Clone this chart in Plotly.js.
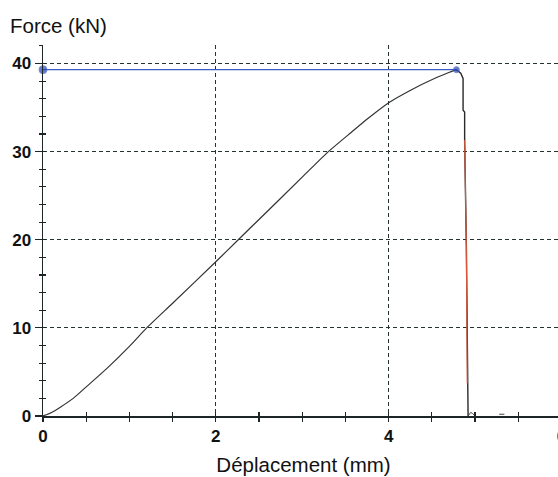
<!DOCTYPE html>
<html>
<head>
<meta charset="utf-8">
<script src="https://cdn.plot.ly/plotly-3.0.1.min.js"></script>
<style>
html,body{margin:0;padding:0;overflow:hidden;background:#fff;width:558px;height:477px;}
#chart{width:570px;height:477px;}
</style>
</head>
<body>
<div id="chart"></div>
<script>
// Load curve (Force vs displacement)
const curveX = [0, 0.1, 0.2, 0.35, 0.5, 0.74, 1.0, 1.2, 1.5, 2.0, 2.26, 2.5, 3.0, 3.3, 3.57, 3.76, 4.01, 4.26, 4.53, 4.69, 4.785];
const curveY = [0, 0.4, 1.0, 2.0, 3.3, 5.4, 7.9, 10.0, 12.8, 17.5, 20.0, 22.3, 27.1, 29.97, 32.2, 33.75, 35.6, 37.0, 38.3, 38.95, 39.3];
// Failure drop
const dropX = [4.785, 4.835, 4.862, 4.862, 4.88, 4.88, 4.90, 4.91, 4.92, 4.92];
const dropY = [39.3, 38.9, 38.3, 34.7, 34.5, 31.3, 19.2, 3.7, 1.0, 0];
// Red-highlighted part of the drop
const redX = [4.88, 4.90, 4.91];
const redY = [31.3, 19.2, 3.7];
// Residual trace after failure
const tailX = [4.92, 4.95, 4.97, 4.99, null, 5.28, 5.34];
const tailY = [0, 0.4, 0.3, 0.1, null, 0.2, 0.2];
// Maximum force reference
const maxX = [0, 4.785];
const maxY = [39.3, 39.3];
const markerSizes = [8, 6];

const xTickVals = [0, 2, 4, 6];
const xTickText = ['0', '2', '4', '6'];
const yTickVals = [0, 10, 20, 30, 40];
const yTickText = ['0', '10', '20', '30', '40'];

const xRange = [0, 6.03];
const yRange = [0, 42.1];
const axisColor = '#1c2626';
const gridColor = '#243232';
const tickFont = {family: 'Liberation Sans, Arial, sans-serif', size: 17, color: '#111', weight: 'bold'};
const titleFont = {family: 'Liberation Sans, Arial, sans-serif', size: 20.5, color: '#111'};

const traces = [
  {x: curveX, y: curveY, type: 'scatter', mode: 'lines', line: {color: '#333', width: 1.2, shape: 'spline', smoothing: 0.6}, hoverinfo: 'skip', showlegend: false},
  {x: dropX, y: dropY, type: 'scatter', mode: 'lines', line: {color: '#2a2a2a', width: 1.4}, hoverinfo: 'skip', showlegend: false},
  {x: redX, y: redY, type: 'scatter', mode: 'lines', line: {color: '#d9583a', width: 1.1}, hoverinfo: 'skip', showlegend: false},
  {x: tailX, y: tailY, type: 'scatter', mode: 'lines', line: {color: '#444', width: 1}, connectgaps: false, hoverinfo: 'skip', showlegend: false},
  {x: maxX, y: maxY, type: 'scatter', mode: 'lines+markers', xaxis: 'x2', yaxis: 'y2',
   line: {color: '#3a5cc8', width: 1.3}, marker: {color: '#2444b4', size: markerSizes}, cliponaxis: false, hoverinfo: 'skip', showlegend: false}
];

const layout = {
  width: 570, height: 477,
  margin: {l: 43, r: 6, t: 45, b: 61},
  paper_bgcolor: '#fff', plot_bgcolor: '#fff',
  showlegend: false,
  title: {text: 'Force (kN)', font: titleFont, x: 10/570, xanchor: 'left', y: 1 - 26/477, yanchor: 'middle', xref: 'container', yref: 'container'},
  xaxis: {
    range: xRange, tickmode: 'array', tickvals: xTickVals, ticktext: xTickText,
    showgrid: true, gridcolor: gridColor, griddash: '4px,3px', gridwidth: 1,
    zeroline: false, showline: true, linecolor: axisColor, linewidth: 1.5,
    ticks: 'outside', ticklen: 4, tickwidth: 1.2, tickcolor: axisColor,
    minor: {dtick: 0.5, tick0: 0, ticks: 'outside', ticklen: 4, tickwidth: 1.2, tickcolor: axisColor, showgrid: false},
    tickfont: tickFont,
    title: {text: 'Déplacement (mm)', font: titleFont, standoff: 12},
    fixedrange: true
  },
  xaxis2: {
    overlaying: 'x', anchor: 'y', side: 'bottom', range: xRange,
    tickmode: 'array', tickvals: xTickVals, showticklabels: false,
    showgrid: false, zeroline: false, showline: false,
    ticks: 'inside', ticklen: 4, tickwidth: 1.2, tickcolor: axisColor,
    minor: {dtick: 0.5, tick0: 0, ticks: 'inside', ticklen: 4, tickwidth: 1.2, tickcolor: axisColor, showgrid: false},
    fixedrange: true
  },
  yaxis: {
    range: yRange, tickmode: 'array', tickvals: yTickVals, ticktext: yTickText,
    showgrid: true, gridcolor: gridColor, griddash: '4px,3px', gridwidth: 1,
    zeroline: false, showline: true, linecolor: axisColor, linewidth: 1.5,
    ticks: 'outside', ticklen: 7, tickwidth: 1.2, tickcolor: axisColor,
    minor: {dtick: 2, tick0: 0, ticks: 'outside', ticklen: 3, tickwidth: 1.2, tickcolor: axisColor, showgrid: false},
    tickfont: tickFont,
    fixedrange: true
  },
  yaxis2: {
    overlaying: 'y', anchor: 'x', side: 'left', range: yRange,
    tickmode: 'array', tickvals: yTickVals, showticklabels: false,
    showgrid: false, zeroline: false, showline: false,
    ticks: 'inside', ticklen: 0, tickcolor: axisColor,
    minor: {dtick: 2, tick0: 0, ticks: 'inside', ticklen: 3, tickwidth: 1.2, tickcolor: axisColor, showgrid: false},
    fixedrange: true
  }
};

Plotly.newPlot('chart', traces, layout, {staticPlot: true, displayModeBar: false});
</script>
</body>
</html>
